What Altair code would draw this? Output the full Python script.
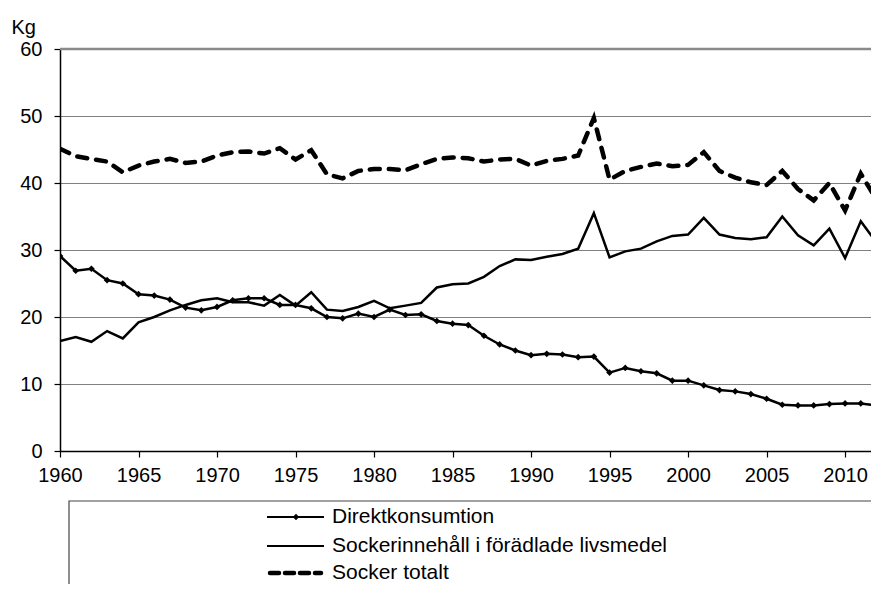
import altair as alt
import pandas as pd

years = list(range(1960, 2013))

direkt = [29.1, 26.9, 27.2, 25.5, 25.0, 23.4, 23.2, 22.6, 21.4, 21.0,
          21.5, 22.5, 22.8, 22.8, 21.8, 21.8, 21.3, 20.0, 19.8, 20.5,
          20.0, 21.1, 20.3, 20.4, 19.4, 19.0, 18.8, 17.2, 15.9, 15.0,
          14.3, 14.5, 14.4, 14.0, 14.1, 11.7, 12.4, 11.9, 11.6, 10.5,
          10.5, 9.8, 9.1, 8.9, 8.5, 7.8, 6.9, 6.8, 6.8, 7.0,
          7.1, 7.1, 6.8]

foradlade = [16.4, 17.0, 16.3, 17.9, 16.8, 19.2, 20.0, 21.0, 21.8, 22.5,
             22.8, 22.2, 22.2, 21.7, 23.3, 21.7, 23.7, 21.1, 20.9, 21.5,
             22.4, 21.3, 21.7, 22.1, 24.4, 24.9, 25.0, 26.0, 27.6, 28.6,
             28.5, 29.0, 29.4, 30.2, 35.5, 28.9, 29.8, 30.2, 31.3, 32.1,
             32.3, 34.8, 32.3, 31.8, 31.6, 31.9, 35.0, 32.2, 30.7, 33.2,
             28.8, 34.3, 31.1]

totalt = [45.1, 44.0, 43.6, 43.2, 41.6, 42.6, 43.2, 43.6, 43.0, 43.2,
          44.1, 44.6, 44.7, 44.4, 45.2, 43.5, 44.9, 41.3, 40.7, 41.8,
          42.1, 42.1, 41.9, 42.8, 43.6, 43.8, 43.7, 43.2, 43.5, 43.6,
          42.6, 43.3, 43.6, 44.1, 49.7, 40.5, 41.8, 42.4, 42.9, 42.5,
          42.7, 44.6, 41.8, 40.8, 40.1, 39.7, 41.8, 39.1, 37.4, 40.0,
          35.9, 41.4, 37.5]

series_names = ["Direktkonsumtion", "Sockerinnehåll i förädlade livsmedel", "Socker totalt"]
x_ticks = list(range(1960, 2011, 5))
y_ticks = [0, 10, 20, 30, 40, 50, 60]

FONT = "Liberation Sans"
W, H = 811, 402

df = pd.DataFrame({
    "year": years * 3,
    "value": direkt + foradlade + totalt,
    "series": [series_names[0]] * len(years) + [series_names[1]] * len(years) + [series_names[2]] * len(years),
})

x_enc = alt.X("year:Q", scale=alt.Scale(domain=[1960, 2011.65], nice=False, zero=False),
              axis=alt.Axis(values=x_ticks, format="d", title=None, grid=False,
                            domainColor="black", domainWidth=1.5, tickColor="black",
                            tickSize=6, tickWidth=1.2, labelFontSize=20, labelFont=FONT,
                            labelColor="black", labelPadding=8, labelFlush=False))
y_enc = alt.Y("value:Q", scale=alt.Scale(domain=[0, 60], nice=False),
              axis=alt.Axis(values=y_ticks, title="Kg", titleAngle=0, titleAlign="left",
                            titleBaseline="alphabetic", titleX=-49, titleY=-16,
                            titleFont=FONT, titleFontSize=20, titleFontWeight="normal",
                            titleColor="black",
                            grid=True, gridColor="black", gridDash=[1, 1], gridWidth=1,
                            gridOpacity={"condition": {"test": "datum.value === 0 || datum.value === 60", "value": 0}, "value": 1},
                            domainColor="black", domainWidth=1.5, tickColor="black",
                            tickSize=6, tickWidth=1.2, labelFontSize=20, labelFont=FONT,
                            labelColor="black", labelPadding=12))

base = alt.Chart(df)

line_direkt = base.transform_filter(alt.datum.series == series_names[0]).mark_line(
    color="black", strokeWidth=2.5, clip=True).encode(x=x_enc, y=y_enc)
pts_direkt = base.transform_filter(alt.datum.series == series_names[0]).mark_point(
    shape="diamond", filled=True, color="black", size=45, opacity=1, clip=True).encode(x="year:Q", y="value:Q")
line_for = base.transform_filter(alt.datum.series == series_names[1]).mark_line(
    color="black", strokeWidth=2.5, clip=True).encode(x="year:Q", y="value:Q")
line_tot = base.transform_filter(alt.datum.series == series_names[2]).mark_line(
    color="black", strokeWidth=4.5, strokeDash=[10, 9], strokeCap="round", clip=True).encode(x="year:Q", y="value:Q")

leg_df = pd.DataFrame({"name": series_names})

# top border of the plot area (gray)
top_border = alt.Chart(leg_df.head(1)).mark_rule(color="#8a8a8a", strokeWidth=2.5).encode(
    x=alt.value(0), x2=alt.value(W + 5), y=alt.value(0))

# legend box and entries
box = alt.Chart(leg_df.head(1)).mark_rect(fill="white", stroke="#444444", strokeWidth=1.2).encode(
    x=alt.value(9), x2=alt.value(W + 40), y=alt.value(H + 50), y2=alt.value(H + 200))
rows_y = [H + 66, H + 95, H + 122]
leg_layers = []
for i, name in enumerate(series_names):
    d = leg_df.iloc[[i]]
    if i == 2:
        ln = alt.Chart(d).mark_rule(color="black", strokeWidth=4.5, strokeDash=[9, 6], strokeCap="round").encode(
            x=alt.value(210), x2=alt.value(261), y=alt.value(rows_y[i]))
    else:
        ln = alt.Chart(d).mark_rule(color="black", strokeWidth=2).encode(
            x=alt.value(207), x2=alt.value(264), y=alt.value(rows_y[i]))
    leg_layers.append(ln)
    if i == 0:
        leg_layers.append(alt.Chart(d).mark_point(shape="diamond", filled=True, color="black", size=40, opacity=1).encode(
            x=alt.value(236), y=alt.value(rows_y[i])))
    leg_layers.append(alt.Chart(d).mark_text(align="left", baseline="middle", font=FONT, fontSize=21, color="black").encode(
        x=alt.value(272), y=alt.value(rows_y[i]), text="name:N"))

chart = alt.layer(line_direkt, pts_direkt, line_for, line_tot, top_border, box, *leg_layers).properties(
    width=W, height=H,
    autosize=alt.AutoSizeParams(type="none"),
    padding={"left": 52, "top": 41, "right": 0, "bottom": 133},
).configure_view(strokeWidth=0).configure(background="white")

chart.save("out.html", embed_options={"renderer": "svg", "actions": False})
